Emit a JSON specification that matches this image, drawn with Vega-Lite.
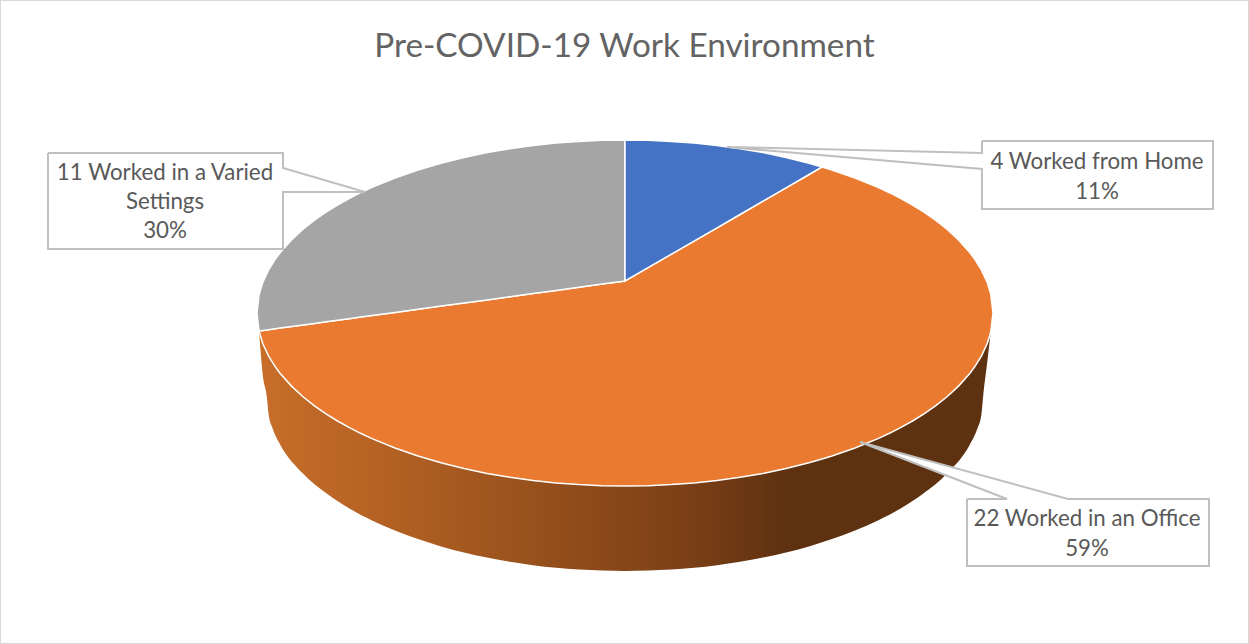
{"$schema":"https://vega.github.io/schema/vega-lite/v6.json","width":1249,"height":644,"padding":0,"autosize":{"type":"none"},"background":"white","config":{"view":{"stroke":"#d9d9d9","strokeWidth":2}},
"title":{"text":"Pre-COVID-19 Work Environment","font":"Lato","fontSize":33.3,"fontWeight":"normal","color":"#636363","anchor":"middle","offset":-64},
"datasets":{
"wall":[{"x":-366,"y":-18,"y2":-18},{"x":-362.25,"y":-30.5,"y2":-62},{"x":-358,"y":-40,"y2":-85},{"x":-356.5,"y":-42.9,"y2":-100.8},{"x":-352,"y":-50.5,"y2":-116.5},{"x":-345,"y":-60.2,"y2":-131.2},{"x":-322,"y":-83.8,"y2":-160.6},{"x":-299,"y":-100.9,"y2":-180.1},{"x":-276,"y":-114.4,"y2":-195.2},{"x":-253,"y":-125.6,"y2":-207.4},{"x":-230,"y":-135,"y2":-217.6},{"x":-207,"y":-143,"y2":-226.1},{"x":-184,"y":-149.8,"y2":-233.4},{"x":-161,"y":-155.6,"y2":-239.5},{"x":-138,"y":-160.4,"y2":-244.6},{"x":-115,"y":-164.3,"y2":-248.8},{"x":-92,"y":-167.5,"y2":-252.2},{"x":-69,"y":-169.9,"y2":-254.8},{"x":-46,"y":-171.6,"y2":-256.6},{"x":-23,"y":-172.7,"y2":-257.6},{"x":0,"y":-173,"y2":-258},{"x":23,"y":-172.7,"y2":-257.6},{"x":46,"y":-171.6,"y2":-256.6},{"x":69,"y":-169.9,"y2":-254.8},{"x":92,"y":-167.5,"y2":-252.2},{"x":115,"y":-164.3,"y2":-248.8},{"x":138,"y":-160.4,"y2":-244.6},{"x":161,"y":-155.6,"y2":-239.5},{"x":184,"y":-149.8,"y2":-233.4},{"x":207,"y":-143,"y2":-226.1},{"x":230,"y":-135,"y2":-217.6},{"x":253,"y":-125.6,"y2":-207.4},{"x":276,"y":-114.4,"y2":-195.2},{"x":299,"y":-100.9,"y2":-180.1},{"x":322,"y":-83.8,"y2":-160.6},{"x":345,"y":-60.2,"y2":-131.2},{"x":352,"y":-50.5,"y2":-116.5},{"x":356.5,"y":-42.9,"y2":-100.8},{"x":358,"y":-40,"y2":-85},{"x":362.25,"y":-30.5,"y2":-49},{"x":365.7,"y":-19.3,"y2":-19.5},{"x":368,"y":0,"y2":0}],
"slices":[
{"slice":"Worked in an Office","x":-366,"y":-18,"y2":-18},{"slice":"Worked in an Office","x":-362.25,"y":-17.5,"y2":-30.5},{"slice":"Worked in an Office","x":-356.5,"y":-16.7,"y2":-42.9},{"slice":"Worked in an Office","x":-350,"y":-15.8,"y2":-53.4},{"slice":"Worked in an Office","x":-345,"y":-15.1,"y2":-60.2},{"slice":"Worked in an Office","x":-333.5,"y":-13.6,"y2":-73.1},{"slice":"Worked in an Office","x":-322,"y":-12,"y2":-83.8},{"slice":"Worked in an Office","x":-310.5,"y":-10.4,"y2":-92.9},{"slice":"Worked in an Office","x":-299,"y":-8.8,"y2":-100.9},{"slice":"Worked in an Office","x":-287.5,"y":-7.3,"y2":-108},{"slice":"Worked in an Office","x":-276,"y":-5.7,"y2":-114.4},{"slice":"Worked in an Office","x":-264.5,"y":-4.1,"y2":-120.3},{"slice":"Worked in an Office","x":-253,"y":-2.6,"y2":-125.6},{"slice":"Worked in an Office","x":-230,"y":0.6,"y2":-135},{"slice":"Worked in an Office","x":-207,"y":3.7,"y2":-143},{"slice":"Worked in an Office","x":-184,"y":6.9,"y2":-149.8},{"slice":"Worked in an Office","x":-161,"y":10,"y2":-155.6},{"slice":"Worked in an Office","x":-138,"y":13.1,"y2":-160.4},{"slice":"Worked in an Office","x":-115,"y":16.3,"y2":-164.3},{"slice":"Worked in an Office","x":-92,"y":19.4,"y2":-167.5},{"slice":"Worked in an Office","x":-69,"y":22.6,"y2":-169.9},{"slice":"Worked in an Office","x":-46,"y":25.7,"y2":-171.6},{"slice":"Worked in an Office","x":-23,"y":28.9,"y2":-172.7},{"slice":"Worked in an Office","x":0,"y":32,"y2":-173},{"slice":"Worked in an Office","x":23,"y":45.3,"y2":-172.7},{"slice":"Worked in an Office","x":46,"y":58.6,"y2":-171.6},{"slice":"Worked in an Office","x":69,"y":71.9,"y2":-169.9},{"slice":"Worked in an Office","x":92,"y":85.2,"y2":-167.5},{"slice":"Worked in an Office","x":115,"y":98.5,"y2":-164.3},{"slice":"Worked in an Office","x":138,"y":111.9,"y2":-160.4},{"slice":"Worked in an Office","x":161,"y":125.2,"y2":-155.6},{"slice":"Worked in an Office","x":184,"y":138.5,"y2":-149.8},{"slice":"Worked in an Office","x":197,"y":146,"y2":-146},{"slice":"Worked in an Office","x":207,"y":143,"y2":-143},{"slice":"Worked in an Office","x":230,"y":135,"y2":-135},{"slice":"Worked in an Office","x":253,"y":125.6,"y2":-125.6},{"slice":"Worked in an Office","x":264.5,"y":120.3,"y2":-120.3},{"slice":"Worked in an Office","x":276,"y":114.4,"y2":-114.4},{"slice":"Worked in an Office","x":287.5,"y":108,"y2":-108},{"slice":"Worked in an Office","x":299,"y":100.9,"y2":-100.9},{"slice":"Worked in an Office","x":310.5,"y":92.9,"y2":-92.9},{"slice":"Worked in an Office","x":322,"y":83.8,"y2":-83.8},{"slice":"Worked in an Office","x":333.5,"y":73.1,"y2":-73.1},{"slice":"Worked in an Office","x":345,"y":60.2,"y2":-60.2},{"slice":"Worked in an Office","x":350,"y":53.4,"y2":-53.4},{"slice":"Worked in an Office","x":356.5,"y":42.9,"y2":-42.9},{"slice":"Worked in an Office","x":362.25,"y":30.5,"y2":-30.5},{"slice":"Worked in an Office","x":365.7,"y":19.3,"y2":-19.3},{"slice":"Worked in an Office","x":368,"y":0,"y2":0},
{"slice":"Worked in a Varied Settings","x":-368,"y":0,"y2":0},{"slice":"Worked in a Varied Settings","x":-366,"y":18,"y2":-18},{"slice":"Worked in a Varied Settings","x":-362.25,"y":30.5,"y2":-17.5},{"slice":"Worked in a Varied Settings","x":-356.5,"y":42.9,"y2":-16.7},{"slice":"Worked in a Varied Settings","x":-350,"y":53.4,"y2":-15.8},{"slice":"Worked in a Varied Settings","x":-345,"y":60.2,"y2":-15.1},{"slice":"Worked in a Varied Settings","x":-333.5,"y":73.1,"y2":-13.6},{"slice":"Worked in a Varied Settings","x":-322,"y":83.8,"y2":-12},{"slice":"Worked in a Varied Settings","x":-310.5,"y":92.9,"y2":-10.4},{"slice":"Worked in a Varied Settings","x":-299,"y":100.9,"y2":-8.8},{"slice":"Worked in a Varied Settings","x":-287.5,"y":108,"y2":-7.3},{"slice":"Worked in a Varied Settings","x":-276,"y":114.4,"y2":-5.7},{"slice":"Worked in a Varied Settings","x":-264.5,"y":120.3,"y2":-4.1},{"slice":"Worked in a Varied Settings","x":-253,"y":125.6,"y2":-2.6},{"slice":"Worked in a Varied Settings","x":-230,"y":135,"y2":0.6},{"slice":"Worked in a Varied Settings","x":-207,"y":143,"y2":3.7},{"slice":"Worked in a Varied Settings","x":-184,"y":149.8,"y2":6.9},{"slice":"Worked in a Varied Settings","x":-161,"y":155.6,"y2":10},{"slice":"Worked in a Varied Settings","x":-138,"y":160.4,"y2":13.1},{"slice":"Worked in a Varied Settings","x":-115,"y":164.3,"y2":16.3},{"slice":"Worked in a Varied Settings","x":-92,"y":167.5,"y2":19.4},{"slice":"Worked in a Varied Settings","x":-69,"y":169.9,"y2":22.6},{"slice":"Worked in a Varied Settings","x":-46,"y":171.6,"y2":25.7},{"slice":"Worked in a Varied Settings","x":-23,"y":172.7,"y2":28.9},{"slice":"Worked in a Varied Settings","x":0,"y":173,"y2":32},
{"slice":"Worked from Home","x":0,"y":173,"y2":32},{"slice":"Worked from Home","x":23,"y":172.7,"y2":45.3},{"slice":"Worked from Home","x":46,"y":171.6,"y2":58.6},{"slice":"Worked from Home","x":69,"y":169.9,"y2":71.9},{"slice":"Worked from Home","x":92,"y":167.5,"y2":85.2},{"slice":"Worked from Home","x":115,"y":164.3,"y2":98.5},{"slice":"Worked from Home","x":138,"y":160.4,"y2":111.9},{"slice":"Worked from Home","x":161,"y":155.6,"y2":125.2},{"slice":"Worked from Home","x":184,"y":149.8,"y2":138.5},{"slice":"Worked from Home","x":197,"y":146,"y2":146}],
"boxes":[{"id":"home","x":357,"x2":588,"y":172,"y2":104},{"id":"varied","x":-577,"x2":-342,"y":160,"y2":64},{"id":"office","x":342,"x2":584,"y":-186,"y2":-253}],
"wedges":[{"id":"home","x":102,"y":166,"y2":166},{"id":"home","x":357,"y":160,"y2":144},{"id":"varied","x":-342,"y":145,"y2":121},{"id":"varied","x":-260,"y":121,"y2":121},{"id":"office","x":235,"y":-129,"y2":-129},{"id":"office","x":382,"y":-169.3,"y2":-186},{"id":"office","x":443,"y":-186,"y2":-186}],
"outlines":[{"id":"home","seq":1,"x":357,"y":172},{"id":"home","seq":2,"x":588,"y":172},{"id":"home","seq":3,"x":588,"y":104},{"id":"home","seq":4,"x":357,"y":104},{"id":"home","seq":5,"x":357,"y":144},{"id":"home","seq":6,"x":102,"y":166},{"id":"home","seq":7,"x":357,"y":160},{"id":"home","seq":8,"x":357,"y":172},
{"id":"varied","seq":1,"x":-577,"y":160},{"id":"varied","seq":2,"x":-342,"y":160},{"id":"varied","seq":3,"x":-342,"y":145},{"id":"varied","seq":4,"x":-260,"y":121},{"id":"varied","seq":5,"x":-342,"y":121},{"id":"varied","seq":6,"x":-342,"y":64},{"id":"varied","seq":7,"x":-577,"y":64},{"id":"varied","seq":8,"x":-577,"y":160},
{"id":"office","seq":1,"x":342,"y":-186},{"id":"office","seq":2,"x":382,"y":-186},{"id":"office","seq":3,"x":235,"y":-129},{"id":"office","seq":4,"x":443,"y":-186},{"id":"office","seq":5,"x":584,"y":-186},{"id":"office","seq":6,"x":584,"y":-253},{"id":"office","seq":7,"x":342,"y":-253},{"id":"office","seq":8,"x":342,"y":-186}],
"labels":[{"text":"4 Worked from Home","x":472,"y":151},{"text":"11%","x":472,"y":121},{"text":"11 Worked in a Varied","x":-460,"y":140},{"text":"Settings","x":-460,"y":111},{"text":"30%","x":-460,"y":82},{"text":"22 Worked in an Office","x":462,"y":-206},{"text":"59%","x":462,"y":-236}]
},
"encoding":{"x":{"field":"x","type":"quantitative","axis":null,"scale":{"domain":[-625,624],"nice":false,"zero":false}},"y":{"field":"y","type":"quantitative","axis":null,"scale":{"domain":[-331,313],"nice":false,"zero":false}}},
"layer":[
{"data":{"name":"wall"},"mark":{"type":"area","interpolate":"monotone","fill":{"gradient":"linear","x1":0,"x2":1,"y1":0,"y2":0,"stops":[{"offset":0,"color":"#c76e2a"},{"offset":0.2,"color":"#b05f22"},{"offset":0.38,"color":"#97501c"},{"offset":0.6,"color":"#783e16"},{"offset":0.72,"color":"#5e3110"},{"offset":1,"color":"#5e3110"}]}},"encoding":{"y2":{"field":"y2"}}},
{"data":{"name":"slices"},"mark":{"type":"area","stroke":"white","strokeWidth":1.5},"encoding":{"y2":{"field":"y2"},"color":{"field":"slice","type":"nominal","legend":null,"scale":{"domain":["Worked from Home","Worked in an Office","Worked in a Varied Settings"],"range":["#4472c4","#ea7a2f","#a5a5a5"]}}}},
{"data":{"name":"boxes"},"mark":{"type":"rect","fill":"white"},"encoding":{"x2":{"field":"x2"},"y2":{"field":"y2"}}},
{"data":{"name":"wedges"},"mark":{"type":"area","fill":"white"},"encoding":{"y2":{"field":"y2"},"detail":{"field":"id"}}},
{"data":{"name":"outlines"},"mark":{"type":"line","stroke":"#bfbfbf","strokeWidth":2},"encoding":{"detail":{"field":"id"},"order":{"field":"seq","type":"ordinal"}}},
{"data":{"name":"labels"},"mark":{"type":"text","font":"Lato","fontSize":22.3,"color":"#595959","align":"center","baseline":"middle"},"encoding":{"text":{"field":"text","type":"nominal"}}}
]}
